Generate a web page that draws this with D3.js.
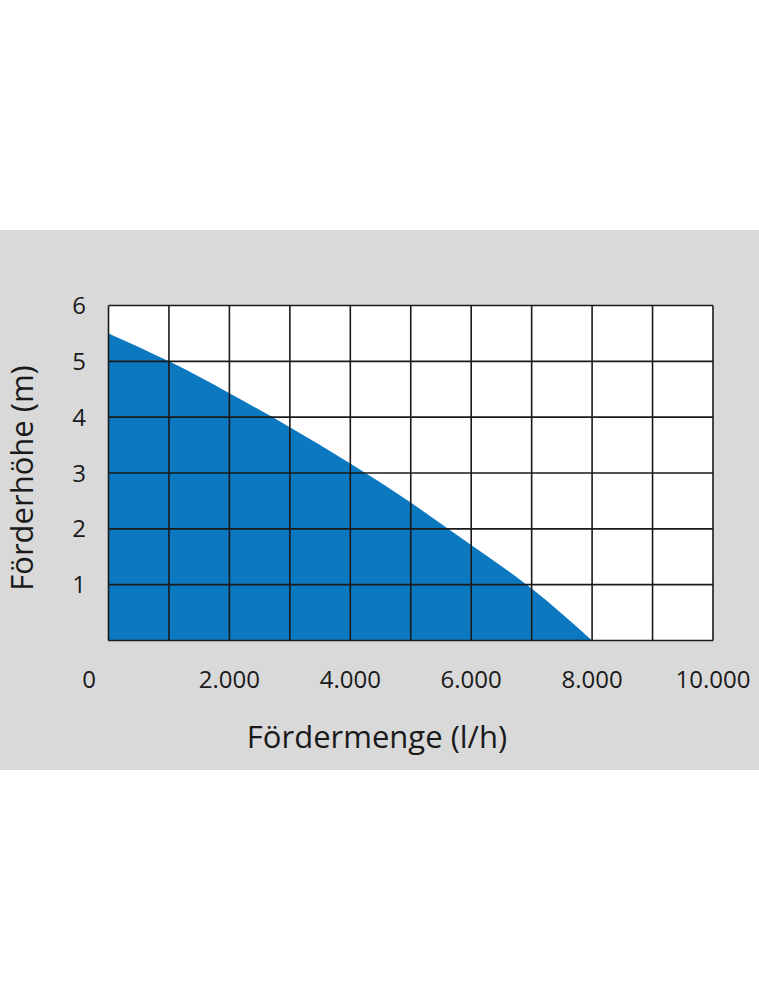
<!DOCTYPE html>
<html>
<head>
<meta charset="utf-8">
<script src="https://cdn.jsdelivr.net/npm/d3@7"></script>
<style>
html,body{margin:0;padding:0;background:#fff;}
svg{display:block;}
text{font-family:"Open Sans",sans-serif;fill:#1a1a1a;}
</style>
</head>
<body>
<svg id="chart" width="759" height="999"></svg>
<script>
// Data
const flowValues = [0, 1000, 2000, 3000, 4000, 5000, 6000, 7000, 8000];
const headValues = [5.5, 5.0, 4.43, 3.82, 3.17, 2.47, 1.71, 0.93, 0];
const xTicks = [0, 2000, 4000, 6000, 8000, 10000];
const xTickLabels = ["0", "2.000", "4.000", "6.000", "8.000", "10.000"];
const yTicks = [1, 2, 3, 4, 5, 6];
const xGrid = [0,1000,2000,3000,4000,5000,6000,7000,8000,9000,10000];
const yGrid = [0,1,2,3,4,5,6];
const xTitle = "Fördermenge (l/h)";
const yTitle = "Förderhöhe (m)";

(function(){
const svg = d3.select("#chart");
const W = 759;

// background band
svg.append("rect").attr("x",0).attr("y",230).attr("width",W).attr("height",540).attr("fill","#d9d9d9");

const pL = 108.5, pR = 713, pT = 305.5, pB = 640.5;
const x = d3.scaleLinear().domain([0,10000]).range([pL,pR]);
const y = d3.scaleLinear().domain([0,6]).range([pB,pT]);

// plot background
svg.append("rect").attr("x",pL).attr("y",pT).attr("width",pR-pL).attr("height",pB-pT).attr("fill","#ffffff");

// area
const pts = flowValues.map((f,i)=>[f, headValues[i]]);
const area = d3.area().x(d=>x(d[0])).y0(y(0)).y1(d=>y(d[1])).curve(d3.curveNatural);
svg.append("path").datum(pts).attr("d",area).attr("fill","#0c78bf");

// grid
const g = svg.append("g").attr("stroke","#1a1a1a").attr("stroke-width",1.6);
g.selectAll("line.v").data(xGrid).enter().append("line")
  .attr("x1",d=>x(d)).attr("x2",d=>x(d)).attr("y1",pT).attr("y2",pB);
g.selectAll("line.h").data(yGrid).enter().append("line")
  .attr("x1",pL).attr("x2",pR).attr("y1",d=>y(d)).attr("y2",d=>y(d));

// x tick labels
svg.selectAll("text.xt").data(xTicks).enter().append("text")
  .attr("class","xt")
  .attr("x",(d,i)=> i===0 ? x(d)-19.5 : x(d))
  .attr("y",688)
  .attr("text-anchor","middle")
  .attr("font-size",24)
  .text((d,i)=>xTickLabels[i]);

// y tick labels
svg.selectAll("text.yt").data(yTicks).enter().append("text")
  .attr("class","yt")
  .attr("x",86)
  .attr("y",d=>y(d))
  .attr("dy","0.36em")
  .attr("text-anchor","end")
  .attr("font-size",24)
  .text(d=>d);

// titles
svg.append("text").attr("x",377).attr("y",747.5).attr("text-anchor","middle").attr("font-size",31).text(xTitle);
svg.append("text").attr("transform","translate(33,478) rotate(-90)").attr("text-anchor","middle").attr("font-size",31).text(yTitle);
})();
</script>
</body>
</html>
